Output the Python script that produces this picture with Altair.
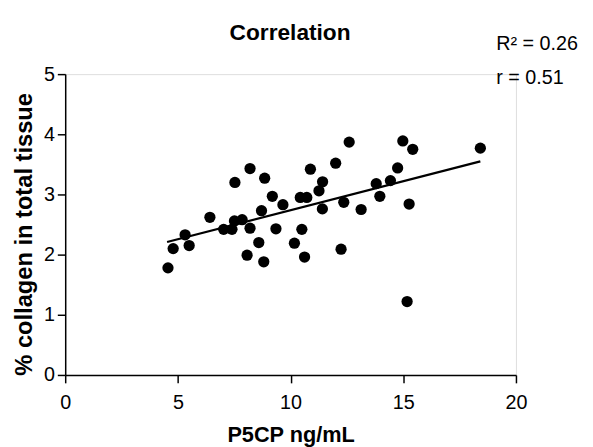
import altair as alt
import pandas as pd

p5cp = [4.56, 4.79, 5.32, 5.50, 6.42, 7.03, 7.40, 7.51, 7.85, 8.20, 7.53, 8.20, 8.07,
        8.85, 8.59, 8.81, 8.71, 9.19, 9.35, 9.66, 10.17, 10.43, 10.72, 10.50, 10.62,
        10.88, 11.26, 11.42, 11.41, 12.00, 12.36, 12.24, 12.60, 13.13, 13.80, 13.96,
        14.43, 14.75, 14.98, 15.42, 15.26, 15.17, 18.42]
collagen = [1.78, 2.10, 2.33, 2.15, 2.62, 2.42, 2.42, 2.56, 2.58, 2.44, 3.20, 3.43, 1.99,
            3.27, 2.20, 1.88, 2.73, 2.97, 2.43, 2.83, 2.19, 2.95, 2.95, 2.42, 1.96,
            3.42, 3.06, 3.21, 2.76, 3.52, 2.87, 2.09, 3.87, 2.75, 3.18, 2.97,
            3.23, 3.44, 3.89, 3.75, 2.84, 1.22, 3.77]

fit_x = [4.52, 18.42]
fit_y = [2.21, 3.55]

title_text = "Correlation"
stats_text = ["R\u00b2 = 0.26", "r = 0.51"]

pts = pd.DataFrame({"x": p5cp, "y": collagen})
fit = pd.DataFrame({"x": fit_x, "y": fit_y})
one = pd.DataFrame({"k": [0]})

FONT = "Liberation Sans"

xscale = alt.Scale(domain=[0, 20], nice=False, zero=False)
yscale = alt.Scale(domain=[0, 5], nice=False, zero=False)

xaxis = alt.Axis(values=[0, 5, 10, 15, 20], format="d", title="P5CP ng/mL", grid=False,
                 domainColor="black", domainWidth=1.5, tickColor="black", tickWidth=1.5,
                 tickSize=8, labelFont=FONT, labelFontSize=20, labelColor="black",
                 labelPadding=10, titleFont=FONT, titleFontSize=22, titleFontWeight="bold",
                 titleColor="black", titlePadding=12, labelFlush=False)
yaxis = alt.Axis(values=[0, 1, 2, 3, 4, 5], format="d", title="% collagen in total tissue",
                 grid=False, domainColor="black", domainWidth=1.5, tickColor="black",
                 tickWidth=1.5, tickSize=8, labelFont=FONT, labelFontSize=20,
                 labelColor="black", labelPadding=3, titleFont=FONT, titleFontSize=24,
                 titleFontWeight="bold", titleColor="black", titlePadding=7,
                 titleY=162, labelFlush=False)

points = alt.Chart(pts).mark_circle(size=130, color="black", opacity=1).encode(
    x=alt.X("x:Q", scale=xscale, axis=xaxis),
    y=alt.Y("y:Q", scale=yscale, axis=yaxis),
)

line = alt.Chart(fit).mark_line(color="black", strokeWidth=2.3).encode(
    x=alt.X("x:Q", scale=xscale),
    y=alt.Y("y:Q", scale=yscale),
)

title = alt.Chart(one).mark_text(align="center", baseline="alphabetic", font=FONT,
                                 fontSize=23, fontWeight="bold", color="black",
                                 text=title_text).encode(
    x=alt.value(228), y=alt.value(-35))
txt_r2 = alt.Chart(one).mark_text(align="left", baseline="alphabetic", font=FONT,
                                  fontSize=20, color="black", text=stats_text[0]).encode(
    x=alt.value(437), y=alt.value(-24))
txt_r = alt.Chart(one).mark_text(align="left", baseline="alphabetic", font=FONT,
                                 fontSize=20, color="black", text=stats_text[1]).encode(
    x=alt.value(437), y=alt.value(10))

chart = alt.layer(points, line, title, txt_r2, txt_r).properties(
    width=457, height=305,
    padding={"left": 58, "top": 64, "right": 70, "bottom": 70},
    autosize=alt.AutoSizeParams(type="none"),
).configure_view(stroke=None).configure(background="white")

chart.save("out.html", embed_options={"renderer": "svg", "actions": False})
